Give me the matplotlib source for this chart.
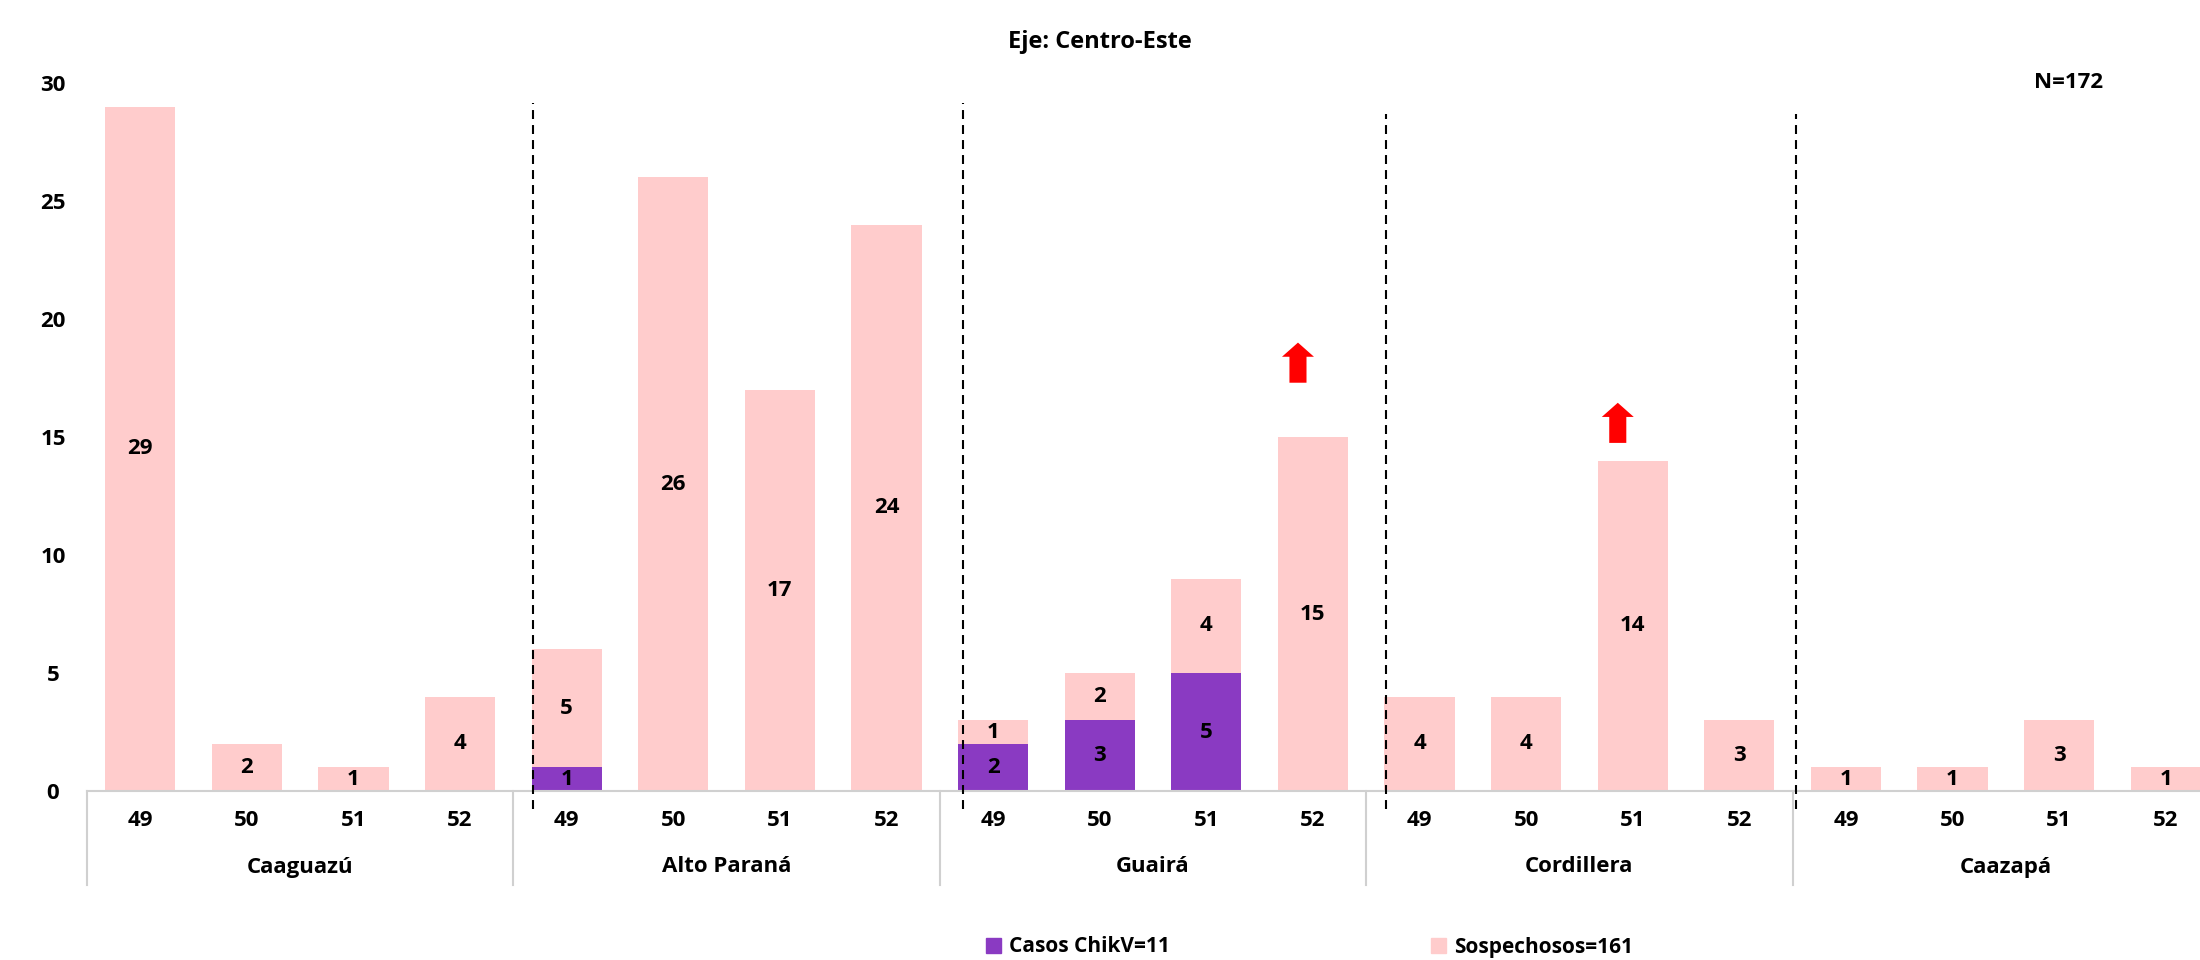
import matplotlib
matplotlib.use("Agg")
import matplotlib.pyplot as plt
from matplotlib.patches import Patch, FancyArrow
import numpy as np

plt.rcParams["font.family"] = ["Open Sans", "DejaVu Sans"]
plt.rcParams["font.weight"] = "bold"

# data
departamentos = ["Caaguazú", "Alto Paraná", "Guairá", "Cordillera", "Caazapá"]
semanas = ["49", "50", "51", "52"]
casos = [0, 0, 0, 0,
         1, 0, 0, 0,
         2, 3, 5, 0,
         0, 0, 0, 0,
         0, 0, 0, 0]
sospechosos = [29, 2, 1, 4,
               5, 26, 17, 24,
               1, 2, 4, 15,
               4, 4, 14, 3,
               1, 1, 3, 1]
# rising-trend markers: bar index and arrow base height
flechas = [11, 14]
flechas_base = [17.3, 14.75]
# dashed separators
cortes_x = [3.68, 7.72, 11.69, 15.53]
cortes_top = [29.15, 29.15, 28.7, 28.7]

purple = "#8A3AC2"
pink = "#FFCCCC"
grey = "#D0D0D0"
FS = 16

W, H = 2200, 960
fig = plt.figure(figsize=(W / 100, H / 100), dpi=100)
ax = fig.add_axes([87 / W, 169 / H, 2132 / W, 708 / H])

x = np.arange(len(sospechosos))
ax.bar(x, casos, width=0.66, color=purple, zorder=2)
ax.bar(x, sospechosos, bottom=casos, width=0.66, color=pink, zorder=2)

for i, (c, s) in enumerate(zip(casos, sospechosos)):
    if c > 0:
        ax.text(i, c / 2, str(c), ha="center", va="center", fontsize=FS,
                fontweight="bold", zorder=4)
    if s > 0:
        ax.text(i, c + s / 2, str(s), ha="center", va="center", fontsize=FS,
                fontweight="bold", zorder=4)

ax.set_xlim(-0.5, len(x) - 0.5)
ax.set_ylim(0, 30)

# y axis
ax.set_yticks(range(0, 31, 5))
ax.tick_params(axis="y", length=0, pad=24.5, labelsize=FS)
for lab in ax.get_yticklabels():
    lab.set_ha("center")
    lab.set_fontweight("bold")

# two-level x axis
ax.set_xticks([])
tr = ax.get_xaxis_transform()
for i in x:
    ax.text(i, -30 / 708, semanas[i % 4], transform=tr, ha="center",
            va="center", fontsize=FS, fontweight="bold")
for g, name in enumerate(departamentos):
    ax.text(g * 4 + 1.5, -76 / 708, name, transform=tr, ha="center",
            va="center", fontsize=FS, fontweight="bold")
for g in range(len(departamentos) + 1):
    ax.plot([g * 4 - 0.5] * 2, [0, -94 / 708], transform=tr, color=grey,
            lw=1.5, clip_on=False)

for s in ["top", "right", "left"]:
    ax.spines[s].set_visible(False)
ax.spines["bottom"].set_color(grey)
ax.spines["bottom"].set_linewidth(1.5)

# dashed separators
for xc, top in zip(cortes_x, cortes_top):
    ax.plot([xc, xc], [-0.75, top], color="black", lw=1.5,
            linestyle=(0, (4.3, 2.9)), clip_on=False, zorder=3)

# red arrows
for i, base in zip(flechas, flechas_base):
    ax.add_patch(FancyArrow(i - 0.14, base, 0, 1.7, width=0.16,
                            head_width=0.30, head_length=0.6,
                            length_includes_head=True, color="red",
                            lw=0, clip_on=False, zorder=5))

fig.text(0.5, 1 - 42 / H, "Eje: Centro-Este", ha="center", va="center",
         fontsize=FS + 1, fontweight="bold")
fig.text(2069 / W, 1 - 83 / H, f"N={sum(casos) + sum(sospechosos)}",
         ha="center", va="center", fontsize=FS, fontweight="bold")

# legend: two entries placed apart, as in the reference
entries = [(purple, f"Casos ChikV={sum(casos)}", 986),
           (pink, f"Sospechosos={sum(sospechosos)}", 1431)]
for color, label, xl in entries:
    fig.legend([Patch(color=color)], [label], loc="center left",
               bbox_to_anchor=(xl / W, 13 / H), frameon=False, borderpad=0,
               borderaxespad=0, handlelength=0.7, handleheight=0.7,
               handletextpad=0.4, prop={"size": 15, "weight": "bold"})

fig.savefig("out.png", dpi=100, facecolor="white")
